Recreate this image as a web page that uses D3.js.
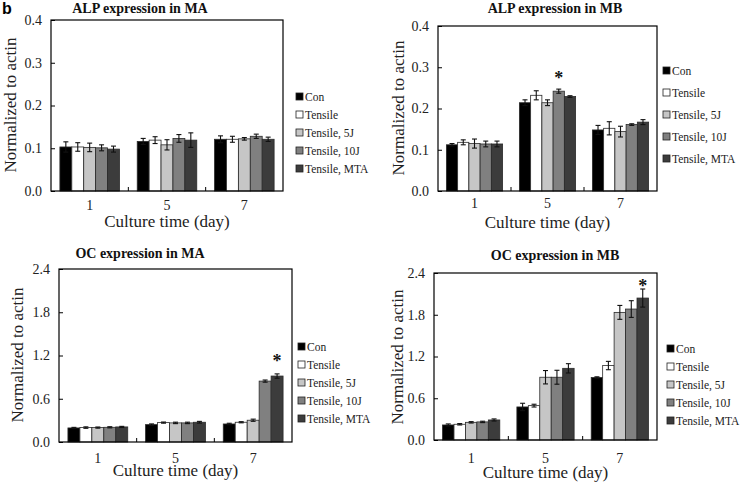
<!DOCTYPE html>
<html><head><meta charset="utf-8">
<script src="https://cdn.jsdelivr.net/npm/d3@7"></script>
<style>body{margin:0;background:#fff;}</style>
</head>
<body><svg id="chart" width="741" height="486"></svg>
<script>
const days = ["1","5","7"];
const groups = ["Con","Tensile","Tensile, 5J","Tensile, 10J","Tensile, MTA"];
const colors = ["#000000","#ffffff","#c6c6c6","#808080","#3c3c3c"];

// values[group][day]
const alpMA = [[0.103,0.116,0.121],[0.103,0.119,0.121],[0.102,0.108,0.122],[0.101,0.123,0.128],[0.098,0.119,0.121]];
const alpMAerr = [[0.012,0.007,0.008],[0.010,0.008,0.007],[0.010,0.012,0.003],[0.007,0.009,0.005],[0.007,0.017,0.005]];
const alpMB = [[0.112,0.214,0.148],[0.118,0.232,0.152],[0.115,0.214,0.144],[0.114,0.242,0.161],[0.114,0.229,0.167]];
const alpMBerr = [[0.003,0.007,0.011],[0.006,0.011,0.016],[0.011,0.007,0.013],[0.007,0.005,0.002],[0.007,0.002,0.006]];
const ocMA = [[0.195,0.241,0.250],[0.200,0.269,0.274],[0.200,0.265,0.302],[0.204,0.265,0.845],[0.209,0.274,0.915]];
const ocMAerr = [[0.008,0.010,0.010],[0.010,0.008,0.008],[0.008,0.010,0.015],[0.008,0.010,0.015],[0.008,0.012,0.030]];
const ocMB = [[0.216,0.475,0.898],[0.226,0.494,1.070],[0.254,0.902,1.834],[0.260,0.902,1.882],[0.288,1.030,2.040]];
const ocMBerr = [[0.015,0.053,0.010],[0.010,0.020,0.060],[0.010,0.096,0.100],[0.010,0.100,0.120],[0.015,0.067,0.130]];

const alpTicks = [0.0,0.1,0.2,0.3,0.4];
const ocTicks = [0.0,0.6,1.2,1.8,2.4];
const titles = ["ALP expression in MA","ALP expression  in  MB","OC expression in MA","OC expression in MB"];
// significance markers: [dayIndex, groupIndex, yValue]
const sigMB_ALP = [[1,3,0.281]];
const sigMA_OC = [[2,4,1.165]];
const sigMB_OC = [[2,4,2.256]];

const svg = d3.select("#chart");

const panels = [
  {vals:alpMA, errs:alpMAerr, ticks:alpTicks, max:0.4, title:titles[0], sig:[],
   L:51,R:283,T:20,B:191, titleX:140,titleY:13, legX:296, legY:97, legDY:18, ytX:10, ytY:105, xlY:210, xtY:227},
  {vals:alpMB, errs:alpMBerr, ticks:alpTicks, max:0.4, title:titles[1], sig:sigMB_ALP,
   L:438,R:657,T:26,B:191, titleX:555,titleY:13, legX:663, legY:71, legDY:22, ytX:398, ytY:108, xlY:208, xtY:228},
  {vals:ocMA, errs:ocMAerr, ticks:ocTicks, max:2.4, title:titles[2], sig:sigMA_OC,
   L:59,R:292,T:269,B:442, titleX:140,titleY:258, legX:298, legY:347, legDY:18, ytX:17, ytY:355, xlY:463, xtY:476},
  {vals:ocMB, errs:ocMBerr, ticks:ocTicks, max:2.4, title:titles[3], sig:sigMB_OC,
   L:434,R:657,T:273,B:440, titleX:555,titleY:260, legX:667, legY:349, legDY:18, ytX:397, ytY:357, xlY:463, xtY:478}
];

panels.forEach(p => {
  const g = svg.append("g");
  const x0 = d3.scaleBand().domain(days).range([p.L,p.R]).paddingInner(0).paddingOuter(0);
  const inner = x0.bandwidth()*0.77;
  const x1 = d3.scaleBand().domain(groups).range([0,inner]);
  const y = d3.scaleLinear().domain([0,p.max]).range([p.B,p.T]);

  groups.forEach((grp,gi) => {
    days.forEach((d,di) => {
      const v = p.vals[gi][di], e = p.errs[gi][di];
      const bx = x0(d) + (x0.bandwidth()-inner)/2 + x1(grp);
      g.append("rect").attr("x",bx).attr("y",y(v)).attr("width",x1.bandwidth()).attr("height",p.B-y(v))
        .attr("fill",colors[gi]).attr("stroke","#2a2a2a").attr("stroke-width",0.8);
      const cx = bx + x1.bandwidth()/2;
      const eg = g.append("g").attr("stroke","#111").attr("stroke-width",1.1);
      eg.append("line").attr("x1",cx).attr("x2",cx).attr("y1",y(v+e)).attr("y2",y(v-e));
      eg.append("line").attr("x1",cx-2.5).attr("x2",cx+2.5).attr("y1",y(v+e)).attr("y2",y(v+e));
      eg.append("line").attr("x1",cx-2.5).attr("x2",cx+2.5).attr("y1",y(v-e)).attr("y2",y(v-e));
    });
  });

  g.append("rect").attr("x",p.L).attr("y",p.T).attr("width",p.R-p.L).attr("height",p.B-p.T)
    .attr("fill","none").attr("stroke","#000").attr("stroke-width",1.2);

  const ya = d3.axisLeft(y).tickValues(p.ticks).tickFormat(d3.format(".1f")).tickSizeInner(-4).tickSizeOuter(0).tickPadding(9);
  const yg = g.append("g").attr("transform",`translate(${p.L},0)`).call(ya);
  yg.select(".domain").remove();
  yg.selectAll("text").style("font-size","14px").attr("fill","#222");
  yg.selectAll("line").attr("stroke","#000");

  days.slice(1).forEach(d => {
    g.append("line").attr("x1",x0(d)).attr("x2",x0(d)).attr("y1",p.B).attr("y2",p.B-4).attr("stroke","#000");
  });
  days.forEach(d => {
    g.append("text").attr("x",x0(d)+x0.bandwidth()/2).attr("y",p.xlY).attr("text-anchor","middle")
      .style("font-size","14px").attr("fill","#222").text(d);
  });
  g.append("text").attr("x",(p.L+p.R)/2).attr("y",p.xtY).attr("text-anchor","middle")
    .style("font-size","17px").attr("fill","#222").text("Culture time (day)");
  g.append("text").attr("transform",`translate(${p.ytX},${p.ytY}) rotate(-90)`).attr("text-anchor","middle")
    .attr("dominant-baseline","central").style("font-size","17px").attr("fill","#222").text("Normalized to actin");
  g.append("text").attr("x",p.titleX).attr("y",p.titleY).attr("text-anchor","middle")
    .style("font-weight","bold").style("font-size","14px").attr("fill","#111").text(p.title);

  p.sig.forEach(s => {
    const d = days[s[0]], grp = groups[s[1]];
    const cx = x0(d) + (x0.bandwidth()-inner)/2 + x1(grp) + x1.bandwidth()/2;
    g.append("text").attr("x",cx).attr("y",y(s[2])+9).attr("text-anchor","middle")
      .style("font-size","18px").style("font-weight","bold").attr("fill","#111").text("*");
  });

  groups.forEach((grp,gi) => {
    const ly = p.legY + gi*p.legDY;
    g.append("rect").attr("x",p.legX).attr("y",ly-4).attr("width",7).attr("height",7)
      .attr("fill",colors[gi]).attr("stroke","#222").attr("stroke-width",0.8);
    g.append("text").attr("x",p.legX+9).attr("y",ly).attr("dominant-baseline","central")
      .style("font-size","11.5px").attr("fill","#222").text(grp);
  });
});

// apply serif font directly on every text
svg.selectAll("text").style("font-family","Liberation Serif");

svg.append("text").attr("x",2).attr("y",14).style("font-family","Liberation Sans")
  .style("font-weight","bold").style("font-size","16px").text("b");
</script></body></html>
